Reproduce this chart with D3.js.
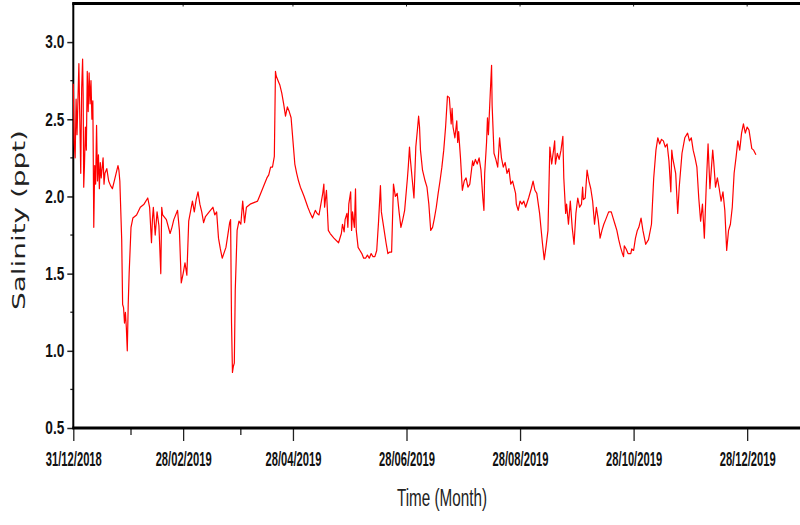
<!DOCTYPE html>
<html>
<head>
<meta charset="utf-8">
<script src="https://cdn.jsdelivr.net/npm/d3@7"></script>
<style>
  body { margin: 0; background: #fff; }
  svg { display: block; }
</style>
</head>
<body>
<svg></svg>
<script>
// days since 31/12/2018 and salinity (ppt)
const dayOffset = [
  0, 0.5, 1, 1.5, 2, 3, 3.5, 4, 4.5, 5, 5.3, 5.6, 6, 6.5, 7, 7.5, 8, 8.5, 9, 9.5, 10, 10.5,
  11, 11.5, 12, 12.5, 13, 13.5, 14, 14.5, 15, 16, 16.5, 17, 18, 19, 20, 21, 22, 23, 24, 24.5,
  25, 26, 26.5, 27, 27.5, 28, 28.5, 29, 29.5, 30, 31, 32, 34, 36, 38, 40, 41, 42, 42.5, 43,
  44, 45, 46, 47, 47.5, 48, 50, 52, 53, 54, 56, 57, 58, 59, 60, 61, 62, 64, 65, 66, 67, 68,
  69, 70, 71, 73, 75, 76, 77, 78, 79, 80, 82, 83, 84, 84.5, 85, 85.5, 86, 86.5, 87, 88, 89,
  90, 91, 92, 93, 95, 97, 99, 100, 102, 104, 105, 106, 107, 108, 108.6, 109, 110, 111, 112,
  113, 114, 115, 116, 117, 118, 119, 120, 121, 122, 123, 124, 126, 127, 128.5, 130, 131, 132,
  133, 134, 134.6, 135, 136, 137, 138, 140, 142.5, 144, 144.6, 145.5, 146, 147, 147.5, 148,
  149, 149.5, 150, 151, 151.6, 152, 153, 154, 155, 156, 157, 158, 159, 160, 161, 162, 163,
  164, 165, 165.5, 166, 167, 168, 169, 170, 171, 172, 173, 174, 175, 176, 177, 178, 179,
  179.5, 180, 180.6, 181, 182, 183, 183.5, 184, 185, 185.5, 186, 186.5, 187.6, 189, 190, 191,
  192, 193, 194, 195, 196, 197, 198, 199, 200, 201, 202, 203, 203.5, 204, 205, 206, 206.5,
  207, 208, 209, 210, 211, 212, 213, 214.5, 215, 216, 217, 218, 219, 220, 220.6, 221, 222,
  222.5, 223, 224, 224.7, 225, 226, 227, 228, 229, 230, 231, 232, 233, 234, 235, 236, 237.6,
  238, 239, 240, 241, 242, 243, 244.6, 246, 247, 248, 249, 250.5, 252, 253, 254, 255, 256,
  257, 258, 258.6, 259, 260, 261, 262, 263, 263.5, 264.5, 265, 266, 267, 268, 269, 270, 271,
  272, 273, 273.6, 274, 275, 276, 277, 278, 279, 280, 281, 282, 283, 284, 285, 286, 287.6,
  289, 290, 291, 292, 293, 294, 295, 295.6, 296, 297, 298, 299.5, 300, 301, 302, 303, 303.8,
  305, 306, 307.5, 309, 310.6, 311.8, 313, 314, 315, 316, 317, 318, 319, 320, 321, 321.5, 322,
  323.6, 324.7, 325.5, 327, 328.5, 330, 331, 332, 333, 334, 335, 336, 337, 338, 339, 340, 341,
  342, 343.5, 344, 345, 346, 347, 348, 349, 350, 351, 352, 353, 354, 355, 356, 357, 358, 359,
  360, 361, 362, 363, 364.5, 365.5, 366.7
];
const salinity = [
  2.73, 2.35, 2.25, 2.63, 2.40, 2.86, 2.50, 2.15, 2.70, 2.89, 2.65, 2.06, 2.20, 2.45, 2.30, 2.81, 2.55, 2.80, 2.60, 2.75, 2.50, 2.62,
  1.80, 2.20, 2.08, 2.46, 2.10, 2.27, 2.05, 2.22, 2.12, 2.25, 2.08, 2.15, 2.18, 2.10, 2.07, 2.05, 2.10, 2.15, 2.20, 2.17,
  2.10, 1.72, 1.30, 1.28, 1.18, 1.25, 1.15, 1.00, 1.30, 1.50, 1.80, 1.86, 1.88, 1.93, 1.95, 1.99, 1.93, 1.70, 1.85, 1.93,
  1.75, 1.90, 1.81, 1.50, 1.93, 1.88, 1.85, 1.76, 1.80, 1.85, 1.91, 1.78, 1.44, 1.50, 1.57, 1.49, 1.84, 1.97, 1.90, 1.98, 2.03, 1.95,
  1.90, 1.83, 1.87, 1.90, 1.93, 1.88, 1.90, 1.73, 1.66, 1.60, 1.67, 1.75, 1.83, 1.85, 1.18, 0.86, 0.90, 0.92, 1.39, 1.78, 1.84,
  1.82, 1.97, 1.83, 1.93, 1.95, 1.96, 1.97, 2.00, 2.06, 2.12, 2.14, 2.19, 2.19, 2.26, 2.81, 2.78, 2.75, 2.72, 2.67,
  2.60, 2.52, 2.58, 2.55, 2.51, 2.36, 2.21, 2.15, 2.10, 2.06, 2.03, 2.00, 1.93, 1.90, 1.86, 1.91, 1.89, 1.88,
  1.95, 2.02, 2.08, 1.93, 2.04, 1.78, 1.76, 1.73, 1.70, 1.76, 1.82, 1.77, 1.85, 1.89, 1.80, 1.95,
  2.03, 1.78, 1.90, 1.80, 2.05, 1.78, 1.67, 1.65, 1.63, 1.60, 1.60, 1.62, 1.60, 1.63, 1.61, 1.61, 1.65,
  1.84, 2.07, 1.90, 1.86, 1.78, 1.70, 1.63, 1.64, 1.64, 2.08, 2.00, 2.02, 1.90, 1.80, 1.85, 1.91, 2.05,
  2.12, 2.20, 2.32, 2.25, 2.12, 1.99, 2.15, 2.32, 2.45, 2.52, 2.45, 2.30, 2.17, 2.10, 2.06, 1.95,
  1.78, 1.80, 1.86, 1.93, 2.02, 2.10, 2.19, 2.30, 2.45, 2.65, 2.64, 2.47, 2.57, 2.45, 2.38, 2.49, 2.35,
  2.42, 2.25, 2.04, 2.10, 2.12, 2.06, 2.08, 2.23, 2.20, 2.24, 2.21, 2.25, 2.17, 1.99, 1.91, 2.15, 2.35,
  2.51, 2.40, 2.67, 2.85, 2.59, 2.28, 2.24, 2.19, 2.38, 2.25, 2.19, 2.22, 2.15, 2.18, 2.08, 2.10, 2.02,
  1.95, 1.91, 1.97, 1.95, 1.97, 1.93, 1.99, 2.05, 2.10, 2.04, 2.02, 1.89, 1.70, 1.59, 1.68, 1.78, 2.32,
  2.21, 2.30, 2.36, 2.21, 2.28, 2.24, 2.30, 2.39, 2.12, 1.89, 1.95, 1.82, 1.97, 1.80, 1.69, 1.89, 1.99,
  1.93, 1.95, 2.06, 1.98, 1.99, 2.17, 2.10, 2.05, 1.97, 1.82, 1.93, 1.85, 1.73, 1.78, 1.82, 1.85, 1.90,
  1.90, 1.86, 1.82, 1.78, 1.72, 1.67, 1.63, 1.61, 1.68, 1.66, 1.63, 1.63, 1.66, 1.65, 1.73, 1.78, 1.80,
  1.86, 1.78, 1.69, 1.72, 1.82, 2.12, 2.30, 2.38, 2.34, 2.37, 2.36, 2.32, 2.34, 2.23, 2.03, 2.30, 2.25,
  2.15, 1.89, 2.06, 2.28, 2.38, 2.41, 2.36, 2.38, 2.30, 2.25, 2.19, 1.99, 1.84, 1.95, 1.73, 2.06, 2.34,
  2.05, 2.30, 2.23, 2.06, 2.12, 2.05, 1.97, 2.03, 1.91, 1.65, 1.78, 1.82, 1.93, 2.15, 2.25, 2.36, 2.30, 2.41,
  2.47, 2.41, 2.45, 2.43, 2.31, 2.30, 2.27
];

const xTickDates = ["31/12/2018", "28/02/2019", "28/04/2019", "28/06/2019", "28/08/2019", "28/10/2019", "28/12/2019"];
const xMinorDates = ["31/01/2019", "31/03/2019"];
const yTicks = [0.5, 1.0, 1.5, 2.0, 2.5, 3.0];
const yMinorTicks = [0.75, 1.25, 1.75, 2.25, 2.75];

const svgWidth = 800, svgHeight = 525;
const plotLeft = 73.3, plotRight = 803, plotTop = 3.5, plotBottom = 428;

const parseDay = d3.utcParse("%d/%m/%Y");
const startDate = parseDay("31/12/2018");
const dayMs = 86400000;
const toDate = d => new Date(startDate.getTime() + d * dayMs);

const svg = d3.select('svg')
    .attr('width', svgWidth)
    .attr('height', svgHeight)

const x = d3.scaleUtc()
    .domain([startDate, toDate(392)])
    .range([plotLeft, plotRight])

const y = d3.scaleLinear()
    .domain([0.5, 3.25])
    .range([plotBottom, plotTop])

const narrow = '"Liberation Sans Narrow", "Arial Narrow", "Liberation Sans", sans-serif';

// x axis
const xAxis = svg.append('g')
    .attr('transform', `translate(0, ${plotBottom})`)
    .call(d3.axisBottom(x)
        .tickValues(xTickDates.map(parseDay))
        .tickFormat(d3.utcFormat("%d/%m/%Y"))
        .tickSize(13)
        .tickPadding(11))
xAxis.select('.domain').remove()
xAxis.selectAll('.tick line').attr('stroke', '#222').attr('stroke-width', 1.3)
xAxis.selectAll('.tick text')
    .attr('font-family', narrow)
    .attr('font-weight', 'bold')
    .attr('font-size', 20)
    .attr('fill', '#111')
    .attr('textLength', 56)
    .attr('lengthAdjust', 'spacingAndGlyphs')

svg.append('g')
    .selectAll('line')
    .data(xMinorDates.map(parseDay))
    .enter()
    .append('line')
        .attr('x1', d => x(d))
        .attr('x2', d => x(d))
        .attr('y1', plotBottom)
        .attr('y2', plotBottom + 7)
        .attr('stroke', '#222')
        .attr('stroke-width', 1.3)

// top ticks
svg.append('g')
    .selectAll('line')
    .data(xTickDates.map(parseDay))
    .enter()
    .append('line')
        .attr('x1', d => x(d))
        .attr('x2', d => x(d))
        .attr('y1', plotTop)
        .attr('y2', plotTop + 3)
        .attr('stroke', '#222')

// y axis
const yAxis = svg.append('g')
    .attr('transform', `translate(${plotLeft}, 0)`)
    .call(d3.axisLeft(y)
        .tickValues(yTicks)
        .tickFormat(d3.format('.1f'))
        .tickSize(6)
        .tickPadding(3))
yAxis.select('.domain').remove()
yAxis.selectAll('.tick line').attr('stroke', '#222').attr('stroke-width', 1.5)
yAxis.selectAll('.tick text')
    .attr('font-family', narrow)
    .attr('font-weight', 'bold')
    .attr('font-size', 18)
    .attr('fill', '#111')
    .attr('textLength', 19)
    .attr('lengthAdjust', 'spacingAndGlyphs')

svg.append('g')
    .selectAll('line')
    .data(yMinorTicks)
    .enter()
    .append('line')
        .attr('x1', plotLeft - 3)
        .attr('x2', plotLeft)
        .attr('y1', d => y(d))
        .attr('y2', d => y(d))
        .attr('stroke', '#222')
        .attr('stroke-width', 1.3)

// frame lines
svg.append('line')
    .attr('x1', plotLeft).attr('x2', plotLeft)
    .attr('y1', plotTop - 1).attr('y2', plotBottom + 1)
    .attr('stroke', '#000').attr('stroke-width', 2)
svg.append('line')
    .attr('x1', plotLeft - 1).attr('x2', svgWidth)
    .attr('y1', plotBottom).attr('y2', plotBottom)
    .attr('stroke', '#000').attr('stroke-width', 3)
svg.append('line')
    .attr('x1', plotLeft - 1).attr('x2', svgWidth)
    .attr('y1', plotTop).attr('y2', plotTop)
    .attr('stroke', '#000').attr('stroke-width', 3)

// salinity line
const points = dayOffset.map((d, i) => ({date: toDate(d), value: salinity[i]}))
svg.append('path')
    .datum(points)
    .attr('d', d3.line().x(d => x(d.date)).y(d => y(d.value)))
    .attr('fill', 'none')
    .attr('stroke', '#ff0000')
    .attr('stroke-width', 1.2)
    .attr('stroke-linejoin', 'round')

// titles
svg.append('text')
    .text('Salinity (ppt)')
    .attr('transform', 'translate(25, 220) rotate(-90)')
    .attr('text-anchor', 'middle')
    .attr('font-family', '"DejaVu Sans", sans-serif')
    .attr('font-size', 17)
    .attr('fill', '#222')
    .attr('textLength', 180)
    .attr('lengthAdjust', 'spacingAndGlyphs')

svg.append('text')
    .text('Time (Month)')
    .attr('x', 442)
    .attr('y', 506)
    .attr('text-anchor', 'middle')
    .attr('font-family', narrow)
    .attr('font-size', 23)
    .attr('fill', '#222')
    .attr('textLength', 90)
    .attr('lengthAdjust', 'spacingAndGlyphs')
</script>
</body>
</html>
